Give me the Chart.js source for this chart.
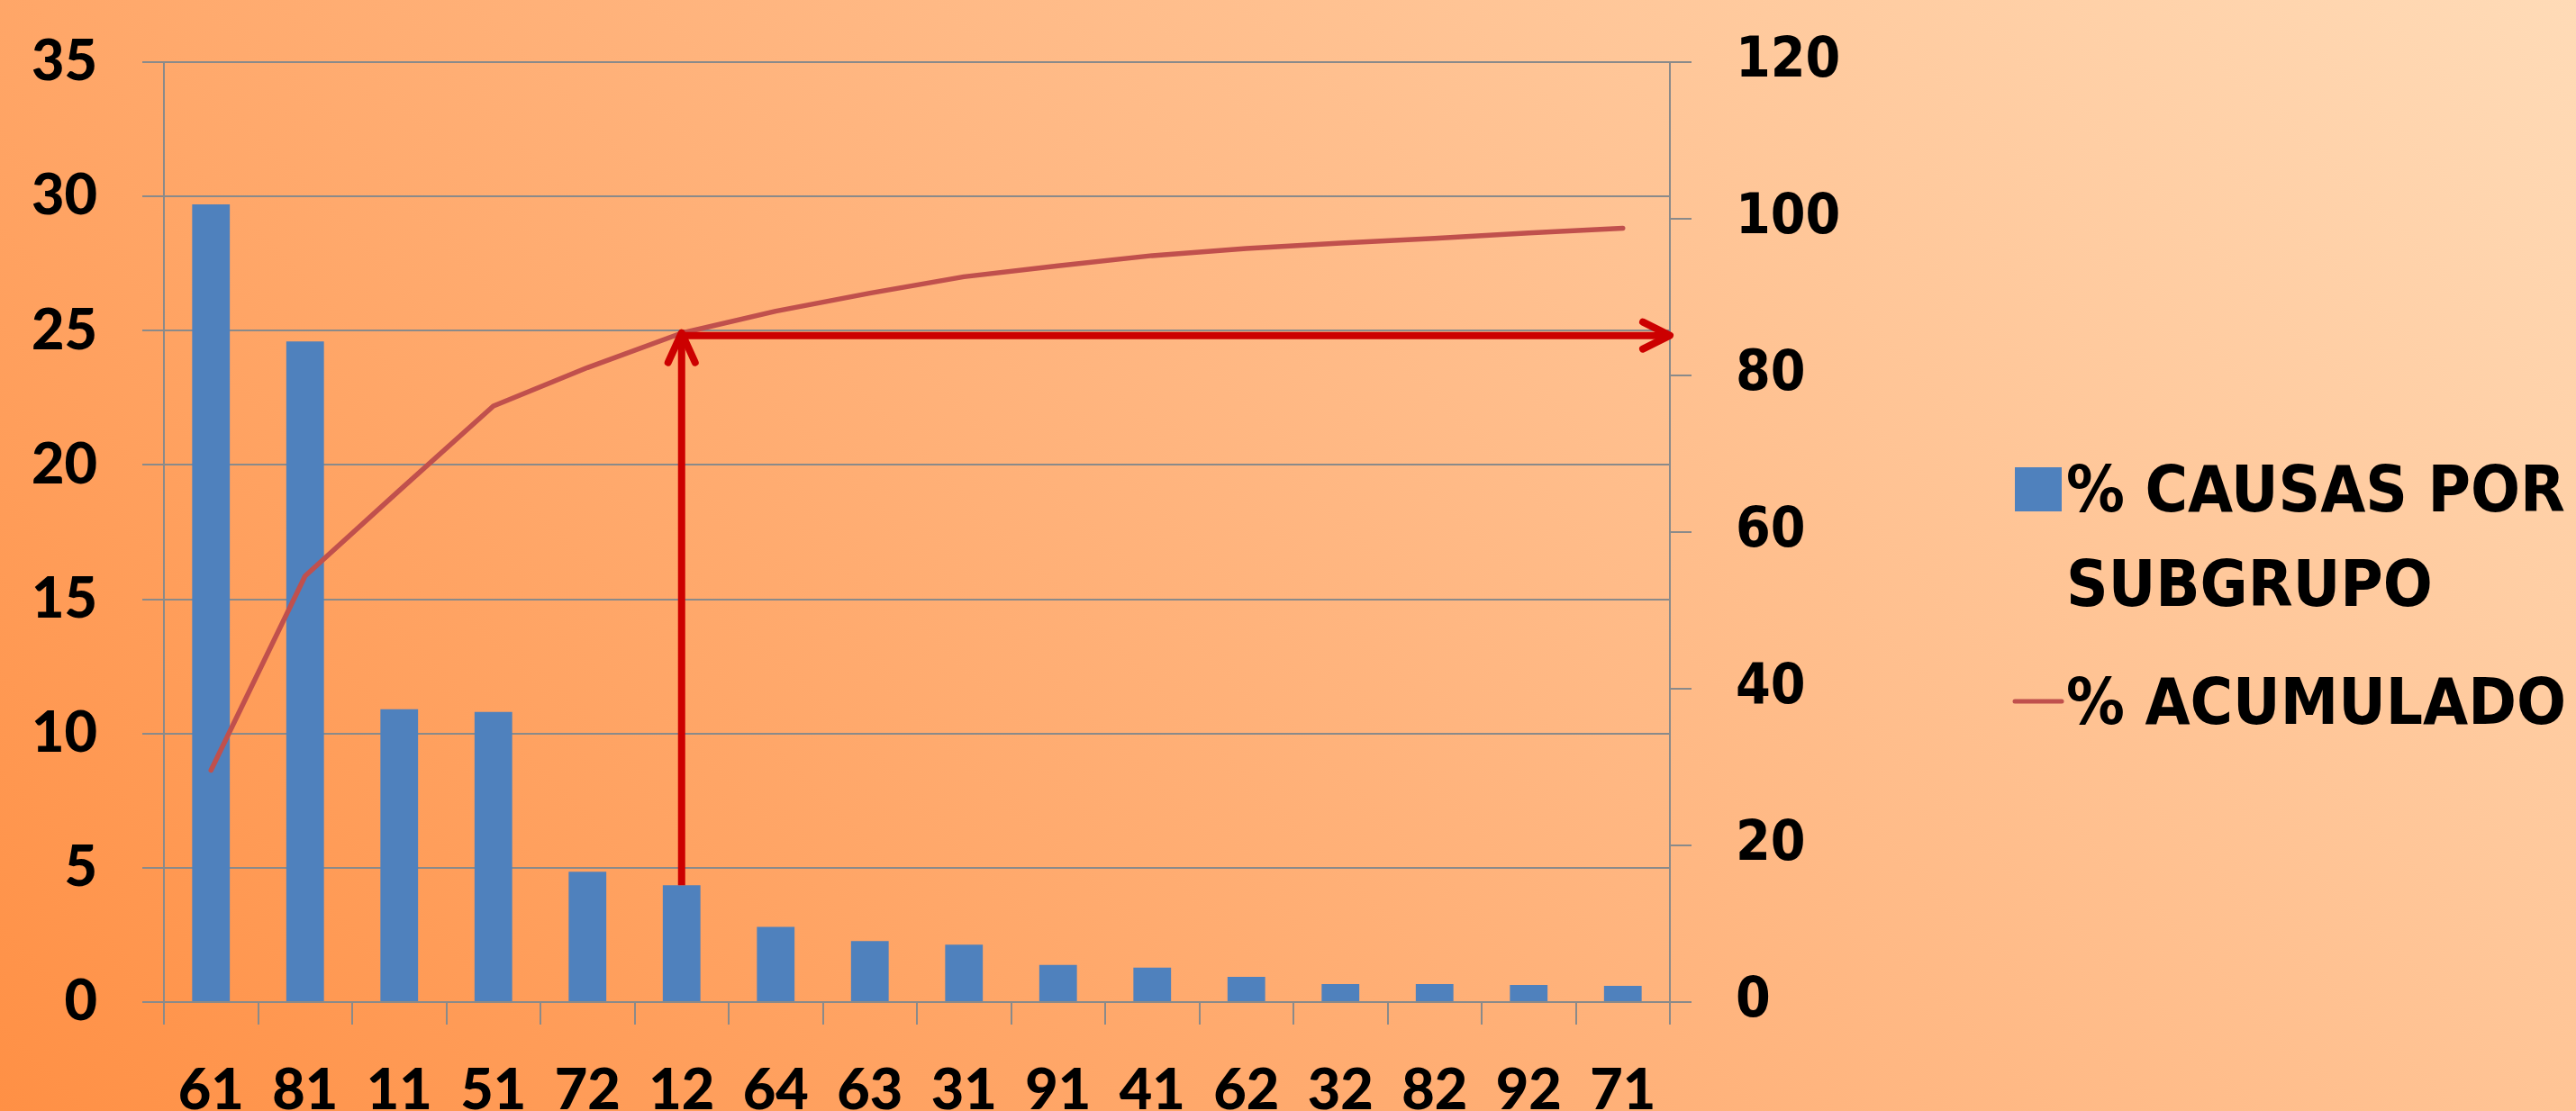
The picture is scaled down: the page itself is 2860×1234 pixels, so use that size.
<!DOCTYPE html>
<html>
<head>
<meta charset="utf-8">
<script src="https://cdn.jsdelivr.net/npm/chart.js@4.4.1/dist/chart.umd.min.js"></script>
<style>
  html, body { margin: 0; padding: 0; overflow: hidden; }
  body { width: 2860px; height: 1234px; background: linear-gradient(45deg, #FF9045 0%, #FFB57F 50%, #FFDBB7 100%); }
  #wrap { position: relative; width: 2860px; height: 1234px; }
  canvas { display: block; }
</style>
</head>
<body>
<div id="wrap"><canvas id="c"></canvas></div>
<script>
// ---- data ----
const categories = ['61','81','11','51','72','12','64','63','31','91','41','62','32','82','92','71'];
const subgroupPct = [29.7, 24.6, 10.9, 10.8, 4.85, 4.35, 2.8, 2.27, 2.14, 1.38, 1.28, 0.94, 0.67, 0.67, 0.64, 0.60];
const cumulativePct = [29.6, 54.4, 65.3, 76.1, 81.0, 85.4, 88.2, 90.5, 92.6, 94.0, 95.3, 96.2, 96.9, 97.5, 98.2, 98.8];
const seriesNames = ['% CAUSAS POR SUBGRUPO', '% ACUMULADO'];
const leftTicks = [0, 5, 10, 15, 20, 25, 30, 35];
const rightTicks = [0, 20, 40, 60, 80, 100, 120];
const arrowCategory = '12';
const arrowLevel = 85.1; // cumulative % marked by the arrows

const BAR_COLOR = '#4F81BD';
const LINE_COLOR = '#C0504D';
const ARROW_COLOR = '#CC0000';
const GRID_COLOR = '#8A8A8A';
const axisFont = { family: 'Lato, "Open Sans", sans-serif', weight: '900', size: 63 };
const rightFont = { family: '"DejaVu Sans Condensed", "DejaVu Sans", sans-serif', weight: 'bold', size: 62 };

const arrowPlugin = {
  id: 'arrows',
  afterDatasetsDraw(chart) {
    const { ctx, chartArea } = chart;
    const xs = chart.scales.x, y = chart.scales.y, y1 = chart.scales.y1;
    const idx = categories.indexOf(arrowCategory);
    const cx = xs.getPixelForValue(idx);
    const yBottom = y.getPixelForValue(subgroupPct[idx]);
    const yLevel = y1.getPixelForValue(arrowLevel);
    const xEnd = chartArea.right;
    ctx.save();
    ctx.strokeStyle = ARROW_COLOR;
    ctx.lineWidth = 8;
    ctx.lineJoin = 'round';
    ctx.lineCap = 'butt';
    ctx.beginPath();
    ctx.moveTo(cx, yBottom);
    ctx.lineTo(cx, yLevel - 3);
    ctx.stroke();
    ctx.lineCap = 'round';
    ctx.beginPath();
    ctx.moveTo(cx - 15, yLevel + 30);
    ctx.lineTo(cx, yLevel - 3);
    ctx.lineTo(cx + 15, yLevel + 30);
    ctx.stroke();
    ctx.lineCap = 'butt';
    ctx.beginPath();
    ctx.moveTo(cx, yLevel);
    ctx.lineTo(xEnd, yLevel);
    ctx.stroke();
    ctx.lineCap = 'round';
    ctx.beginPath();
    ctx.moveTo(xEnd - 30, yLevel - 15);
    ctx.lineTo(xEnd, yLevel);
    ctx.lineTo(xEnd - 30, yLevel + 15);
    ctx.stroke();
    ctx.restore();
  }
};

const legendPlugin = {
  id: 'customLegend',
  afterDraw(chart) {
    const { ctx } = chart;
    const ds = chart.data.datasets;
    const barDs = ds.find(d => d.type === 'bar');
    const lineDs = ds.find(d => d.type === 'line');
    const textX = 2294;
    const fontSize = 72;
    const lineGap = 105;
    ctx.save();
    ctx.font = 'bold ' + fontSize + 'px "DejaVu Sans Condensed", "DejaVu Sans", sans-serif';
    ctx.textBaseline = 'alphabetic';
    ctx.textAlign = 'left';
    const wrap = (text) => {
      const words = text.split(' ');
      const lines = [];
      let cur = '';
      for (const w of words) {
        const test = cur ? cur + ' ' + w : w;
        if (cur && ctx.measureText(test).width > 600) { lines.push(cur); cur = w; }
        else cur = test;
      }
      if (cur) lines.push(cur);
      return lines;
    };
    let base = 568;
    ctx.fillStyle = barDs.backgroundColor;
    ctx.fillRect(2237, 519, 52, 49);
    ctx.fillStyle = '#000000';
    wrap(barDs.label).forEach((t, i) => ctx.fillText(t, textX, base + i * lineGap));
    base = 804;
    ctx.strokeStyle = lineDs.borderColor;
    ctx.lineWidth = 5;
    ctx.lineCap = 'round';
    ctx.beginPath();
    ctx.moveTo(2237, 779);
    ctx.lineTo(2289, 779);
    ctx.stroke();
    ctx.fillStyle = '#000000';
    wrap(lineDs.label).forEach((t, i) => ctx.fillText(t, textX, base + i * lineGap));
    ctx.restore();
  }
};

const noVPad = (s) => { s.paddingTop = 0; s.paddingBottom = 0; };

new Chart(document.getElementById('c'), {
  type: 'bar',
  data: {
    labels: categories,
    datasets: [
      {
        type: 'bar',
        label: seriesNames[0],
        data: subgroupPct,
        yAxisID: 'y',
        backgroundColor: BAR_COLOR,
        borderWidth: 0,
        barPercentage: 0.4,
        categoryPercentage: 1.0,
        order: 2
      },
      {
        type: 'line',
        label: seriesNames[1],
        data: cumulativePct,
        yAxisID: 'y1',
        borderColor: LINE_COLOR,
        backgroundColor: LINE_COLOR,
        borderWidth: 5.5,
        pointRadius: 0,
        borderCapStyle: 'round',
        borderJoinStyle: 'round',
        tension: 0,
        order: 1
      }
    ]
  },
  options: {
    responsive: true,
    maintainAspectRatio: false,
    animation: false,
    layout: { padding: { top: 69, right: 0, bottom: 0, left: 0 } },
    plugins: { legend: { display: false }, tooltip: { enabled: false } },
    scales: {
      x: {
        offset: true,
        grid: { display: true, offset: true, drawOnChartArea: false, drawTicks: true, tickLength: 25, color: GRID_COLOR, lineWidth: 2 },
        border: { display: true, color: GRID_COLOR, width: 2 },
        ticks: { color: '#000', font: axisFont, padding: 36, maxRotation: 0, autoSkip: false },
        afterFit: (s) => { s.height = 121; }
      },
      y: {
        position: 'left',
        min: 0, max: 35,
        afterBuildTicks: (s) => { s.ticks = leftTicks.map(v => ({ value: v })); },
        grid: { color: GRID_COLOR, lineWidth: 2, drawTicks: true, tickLength: 24 },
        border: { display: true, color: GRID_COLOR, width: 2 },
        ticks: { color: '#000', font: axisFont, padding: 50 },
        afterFit: (s) => { s.width = 182; noVPad(s); }
      },
      y1: {
        position: 'right',
        min: 0, max: 120,
        afterBuildTicks: (s) => { s.ticks = rightTicks.map(v => ({ value: v })); },
        grid: { drawOnChartArea: false, color: GRID_COLOR, lineWidth: 2, drawTicks: true, tickLength: 24 },
        border: { display: true, color: GRID_COLOR, width: 2 },
        ticks: { color: '#000', font: rightFont, padding: 49 },
        afterFit: (s) => { s.width = 1006; noVPad(s); }
      }
    }
  },
  plugins: [arrowPlugin, legendPlugin]
});
</script>
</body>
</html>
